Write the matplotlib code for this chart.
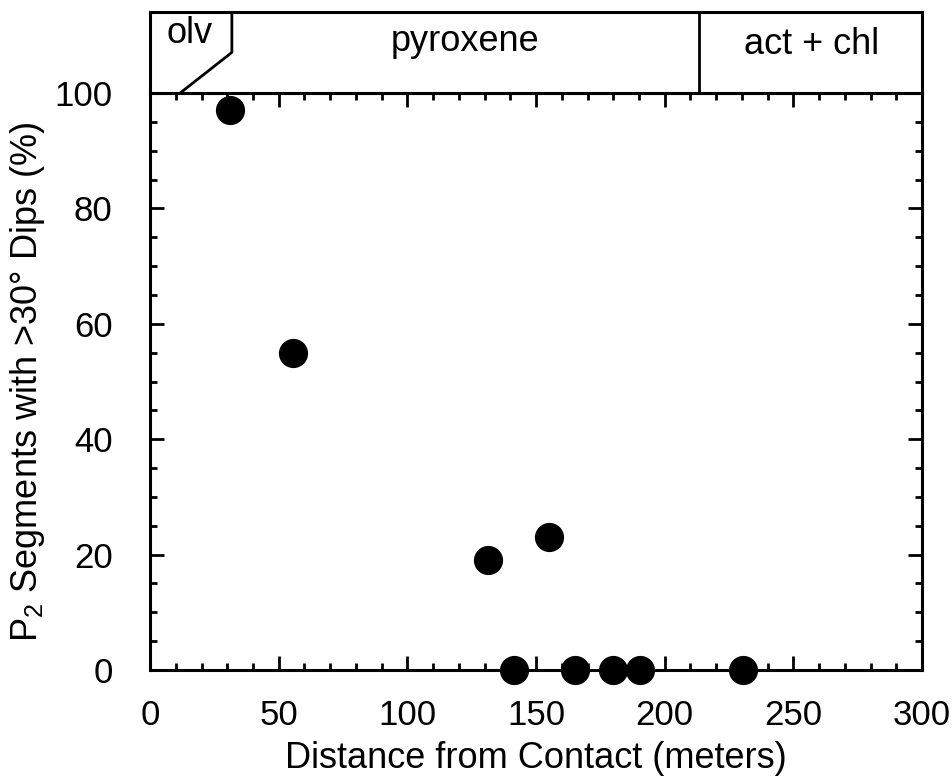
import matplotlib
matplotlib.use("Agg")
import matplotlib.pyplot as plt
from matplotlib.ticker import MultipleLocator

plt.rcParams['font.family'] = ['Liberation Sans', 'DejaVu Sans']
plt.rcParams['mathtext.fontset'] = 'custom'
plt.rcParams['mathtext.rm'] = 'Liberation Sans'
plt.rcParams['mathtext.it'] = 'Liberation Sans:italic'

# distance from contact (m) and % of P2 segments with >30 deg dips
distance = [31, 55.5, 131.5, 155, 141.5, 165, 180, 190.5, 230.5]
pct_steep = [97, 55, 19, 23, 0, 0, 0, 0, 0]

# mineral zones along the top band
zone_labels = ["olv", "pyroxene", "act + chl"]
zone_label_x = [15.5, 122.5, 257]
zone_boundary = 213.5

fig = plt.figure(figsize=(9.52, 7.77), dpi=100)
ax = fig.add_axes([0.1576, 0.1377, 0.811, 0.7426])
band = fig.add_axes([0.1576, 0.8803, 0.811, 0.1045])

ax.scatter(distance, pct_steep, s=400, color='black', zorder=3, clip_on=False)

ax.set_xlim(0, 300)
ax.set_ylim(0, 100)
ax.xaxis.set_major_locator(MultipleLocator(50))
ax.xaxis.set_minor_locator(MultipleLocator(10))
ax.yaxis.set_major_locator(MultipleLocator(20))
ax.yaxis.set_minor_locator(MultipleLocator(5))
ax.tick_params(which='both', direction='in', top=True, right=True, width=2)
ax.tick_params(which='major', length=10, labelsize=25)
ax.tick_params(which='minor', length=5)
ax.tick_params(axis='x', pad=21)
ax.tick_params(axis='y', pad=27)
for s in ax.spines.values():
    s.set_linewidth(2.2)

ax.set_xlabel("Distance from Contact (meters)", fontsize=26, labelpad=6)
ax.set_ylabel(r"P$_2$ Segments with >30° Dips (%)", fontsize=26, labelpad=5)

# top band with mineral zones
band.set_xlim(0, 300)
band.set_ylim(0, 1)
band.set_xticks([])
band.set_yticks([])
for s in band.spines.values():
    s.set_linewidth(2.2)
band.plot([zone_boundary, zone_boundary], [0, 1], color='black', lw=2)
band.plot([31.8, 31.8, 11.7], [1, 0.5, 0], color='black', lw=2)
band.text(zone_label_x[0], 0.73, zone_labels[0], ha='center', va='center', fontsize=26)
band.text(zone_label_x[1], 0.63, zone_labels[1], ha='center', va='center', fontsize=26)
band.text(zone_label_x[2], 0.60, zone_labels[2], ha='center', va='center', fontsize=26)

fig.savefig("out.png", dpi=100)
